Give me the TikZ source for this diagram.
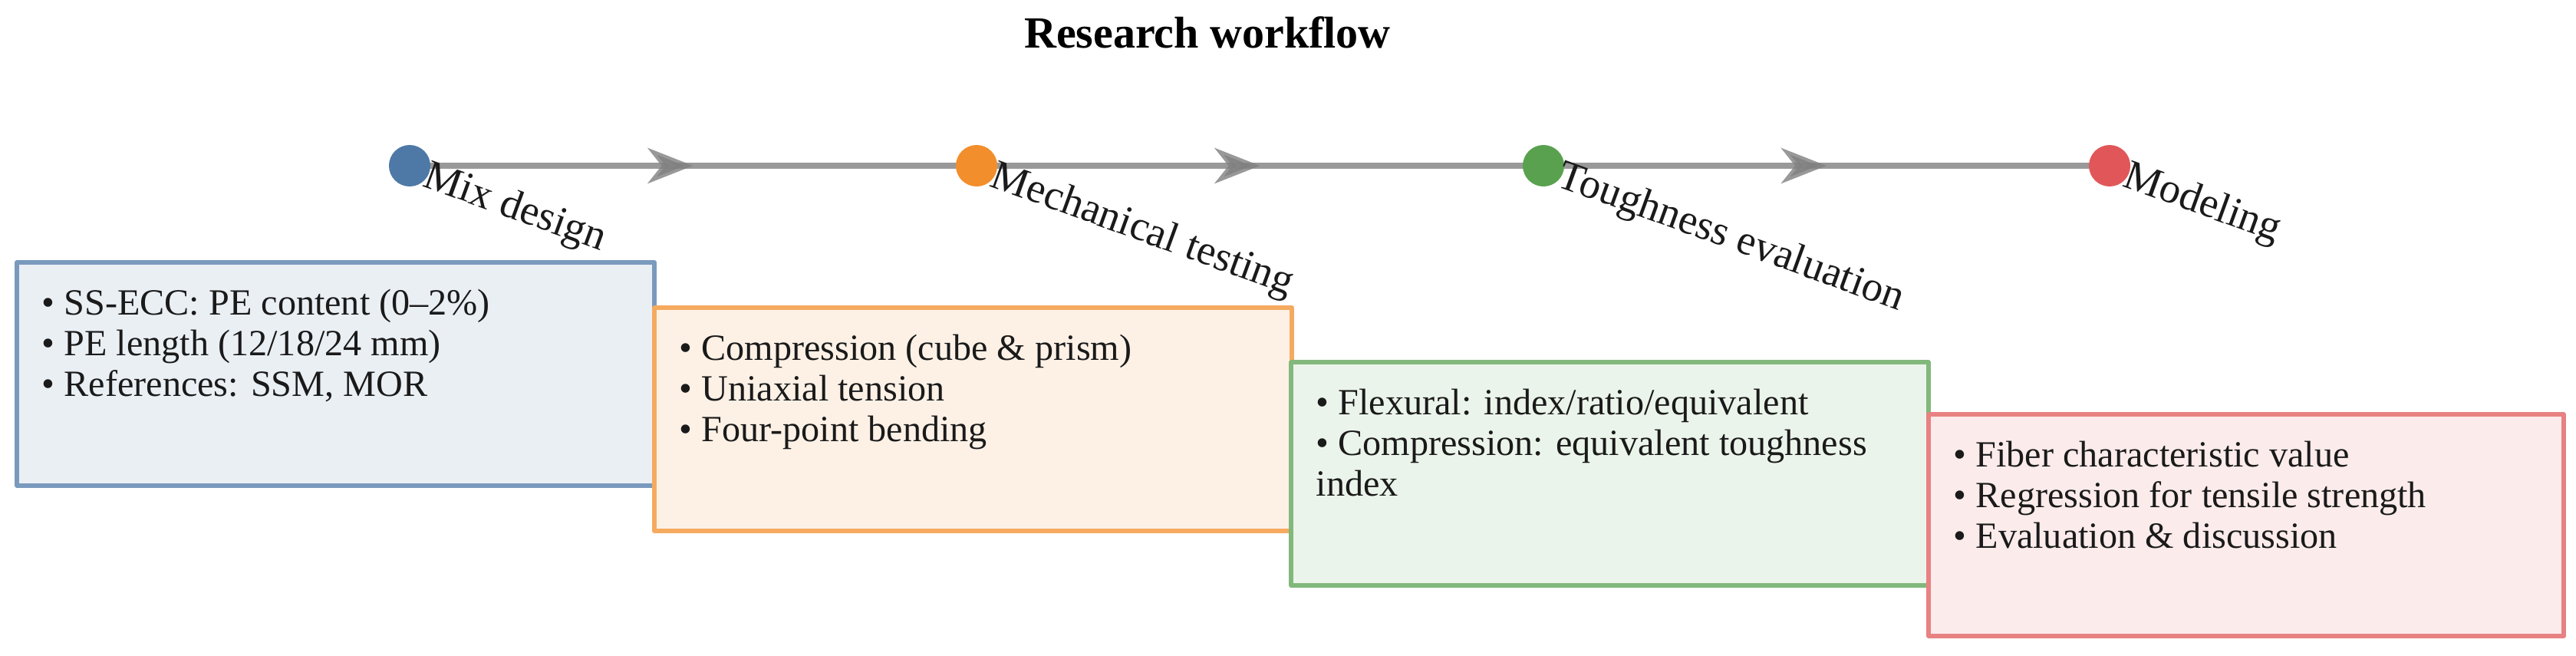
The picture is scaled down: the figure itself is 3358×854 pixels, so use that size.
\documentclass[tikz,border=0pt]{standalone}
\usepackage{fontspec}
\setmainfont{Liberation Serif}
\usetikzlibrary{arrows.meta,decorations.markings}
\definecolor{tabblue}{HTML}{4E79A7}
\definecolor{taborange}{HTML}{F28E2B}
\definecolor{tabgreen}{HTML}{59A14F}
\definecolor{tabred}{HTML}{E15759}
\definecolor{ink}{HTML}{1A1A1A}
\begin{document}
\begin{tikzpicture}[x=0.01cm,y=-0.01cm,line join=round,
	flow/.style={draw=gray,line width=0.08cm,opacity=0.8,postaction={decorate},
		decoration={markings,mark=at position 0.5 with {\arrow{Stealth[length=0.59cm,width=0.46cm,inset=0.18cm]}}}},
	dot/.style={circle,fill=#1,minimum size=0.54cm,inner sep=0pt},
	stage/.style={anchor=base west,rotate=-20,inner sep=0pt,text=ink,font=\fontsize{15.6}{18}\selectfont},
	panel/.style={draw=#1!75!white,fill=#1!12!white,line width=0.055cm},
	items/.style={anchor=base west,align=left,inner sep=0pt,text=ink,font=\fontsize{13.7}{14.94}\selectfont}]
	\useasboundingbox (0,0) rectangle (3358,854);
	\node[font=\fontsize{16.5}{20}\selectfont\bfseries,anchor=base] (title) at (1574,62) {Research workflow};
	\coordinate (p1) at (534,216);
	\coordinate (p2) at (1273,216);
	\coordinate (p3) at (2012,216);
	\coordinate (p4) at (2750,216);
	\draw[flow] (p1)--(p2);
	\draw[flow] (p2)--(p3);
	\draw[flow] (p3)--(p4);
	\node[dot=tabblue] (dot1) at (p1) {};
	\node[dot=taborange] (dot2) at (p2) {};
	\node[dot=tabgreen] (dot3) at (p3) {};
	\node[dot=tabred] (dot4) at (p4) {};
	\node[stage] (mix) at (549,242) {Mix design};
	\node[stage] (mech) at (1288,242) {Mechanical testing};
	\node[stage] (tough) at (2027,242) {Toughness evaluation};
	\node[stage] (model) at (2765,242) {Modeling};
	\draw[panel=tabblue] (22,342) rectangle (853,633);
	\draw[panel=taborange] (853,401) rectangle (1684,692);
	\draw[panel=tabgreen] (1683,472) rectangle (2514,763);
	\draw[panel=tabred] (2514,540) rectangle (3342,829);
	\node[items] (mixlist) at (54,516) {• SS-ECC: PE content (0–2\%)\\• PE length (12/18/24 mm)\\• References: SSM, MOR};
	\node[items] (mechlist) at (885,575) {• Compression (cube \& prism)\\• Uniaxial tension\\• Four-point bending};
	\node[items] (toughlist) at (1715,646) {• Flexural: index/ratio/equivalent\\• Compression: equivalent toughness\\index};
	\node[items] (modellist) at (2546,714) {• Fiber characteristic value\\• Regression for tensile strength\\• Evaluation \& discussion};
\end{tikzpicture}
\end{document}
